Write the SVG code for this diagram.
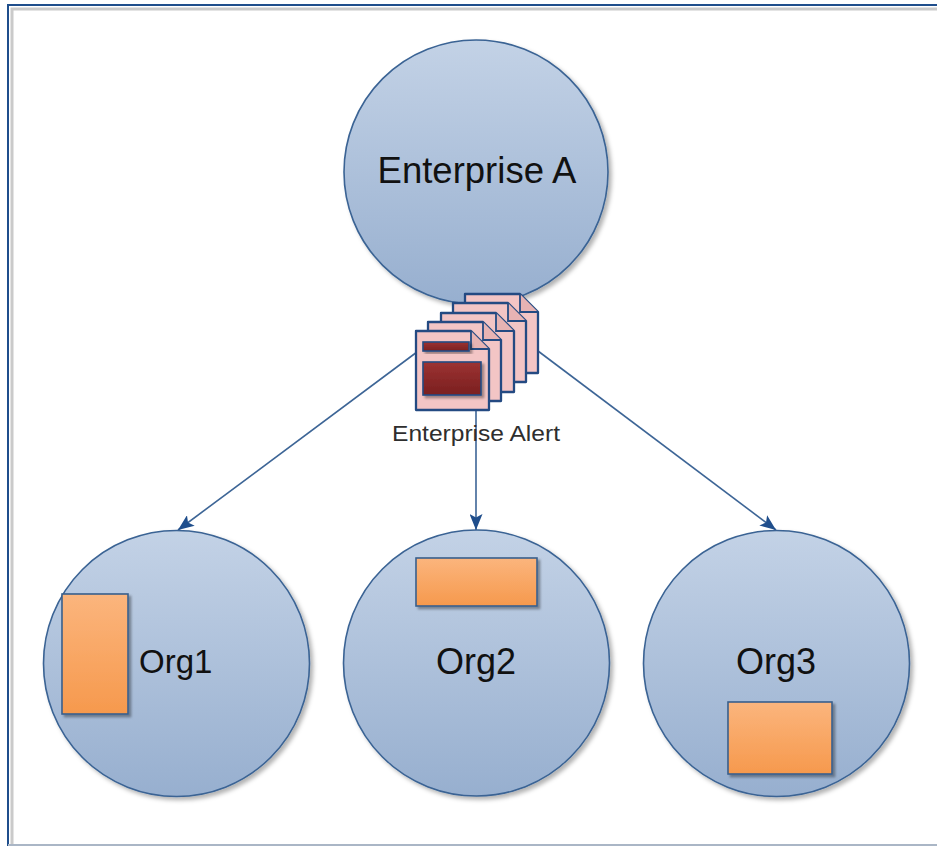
<svg xmlns="http://www.w3.org/2000/svg" width="937" height="846" viewBox="0 0 937 846">
<defs>
<linearGradient id="gCircle" x1="0" y1="0" x2="0" y2="1">
<stop offset="0" stop-color="#c3d2e6"/>
<stop offset="1" stop-color="#97afcf"/>
</linearGradient>
<linearGradient id="gOrange" x1="0" y1="0" x2="0" y2="1">
<stop offset="0" stop-color="#fbb57d"/>
<stop offset="1" stop-color="#f6994d"/>
</linearGradient>
<linearGradient id="gRed" x1="0" y1="0" x2="0" y2="1">
<stop offset="0" stop-color="#9c3232"/>
<stop offset="1" stop-color="#7a2020"/>
</linearGradient>
<filter id="shadow" x="-10%" y="-10%" width="125%" height="125%">
<feDropShadow dx="3" dy="3" stdDeviation="2" flood-color="#000" flood-opacity="0.3"/>
</filter>
<filter id="shadowS" x="-10%" y="-10%" width="130%" height="140%">
<feDropShadow dx="2.5" dy="2.5" stdDeviation="1.2" flood-color="#000" flood-opacity="0.35"/>
</filter>
<marker id="arrow" viewBox="0 0 16 13" refX="16" refY="6.5" markerWidth="16" markerHeight="13" markerUnits="userSpaceOnUse" orient="auto">
<path d="M0,0 L16,6.5 L0,13 L3.5,6.5 Z" fill="#1f4e8c"/>
</marker>
<g id="doc">
<path d="M0,0 H55 L73,18 V79 H0 Z" fill="#f3c5c5" stroke="#244a82" stroke-width="2.3" stroke-linejoin="round"/>
<path d="M55,0 V18 H73" fill="#e7b3b3" stroke="#244a82" stroke-width="1.8"/>
</g>
</defs>
<style>
.circle{fill:url(#gCircle);stroke:#3a6394;stroke-width:1.6;filter:url(#shadow)}
.box{fill:url(#gOrange);stroke:#3a5f8c;stroke-width:1.6;filter:url(#shadowS)}
.lbl{font-family:"Liberation Sans",Arial,sans-serif;fill:#111}
.conn{stroke:#3d6596;stroke-width:1.6;fill:none;marker-end:url(#arrow)}
</style>
<rect x="0" y="0" width="937" height="846" fill="#ffffff"/>
<path d="M12,846 V9 H937" fill="none" stroke="#cacaca" stroke-width="3"/>
<path d="M8,846 V5 H937" fill="none" stroke="#1f4e8c" stroke-width="2"/>
<line x1="8" y1="845" x2="937" y2="845" stroke="#aab6c6" stroke-width="2"/>

<g id="connectors">
<line class="conn" x1="417" y1="352" x2="178" y2="530"/>
<line class="conn" x1="476" y1="410" x2="476" y2="530"/>
<line class="conn" x1="538" y1="351" x2="776" y2="530"/>
</g>

<g id="enterprise-a">
<circle class="circle" cx="476" cy="172" r="132"/>
<text class="lbl" x="477" y="183" font-size="36.5" text-anchor="middle">Enterprise A</text>
</g>

<g id="enterprise-alert">
<use href="#doc" x="465" y="294"/>
<use href="#doc" x="453" y="303"/>
<use href="#doc" x="441" y="313"/>
<use href="#doc" x="428" y="322"/>
<use href="#doc" x="416" y="331"/>
<rect x="423" y="342" width="46" height="9" fill="url(#gRed)" stroke="#244a82" stroke-width="1.6" filter="url(#shadowS)"/>
<rect x="423" y="362" width="58" height="33" fill="url(#gRed)" stroke="#244a82" stroke-width="1.6" filter="url(#shadowS)"/>
<text x="476" y="441" font-family="'Liberation Sans',Arial,sans-serif" font-size="22" fill="#2e2e2e" text-anchor="middle" textLength="168" lengthAdjust="spacingAndGlyphs">Enterprise Alert</text>
</g>

<g id="org1">
<circle class="circle" cx="176.5" cy="663.5" r="133"/>
<rect class="box" x="62" y="594" width="66" height="120"/>
<text class="lbl" x="139" y="673" font-size="33">Org1</text>
</g>

<g id="org2">
<circle class="circle" cx="476.5" cy="663" r="133"/>
<rect class="box" x="416" y="558" width="121" height="48"/>
<text class="lbl" x="476" y="674" font-size="36" text-anchor="middle">Org2</text>
</g>

<g id="org3">
<circle class="circle" cx="776.5" cy="663.5" r="133"/>
<rect class="box" x="728" y="702" width="104" height="72"/>
<text class="lbl" x="776" y="674" font-size="36" text-anchor="middle">Org3</text>
</g>
</svg>
